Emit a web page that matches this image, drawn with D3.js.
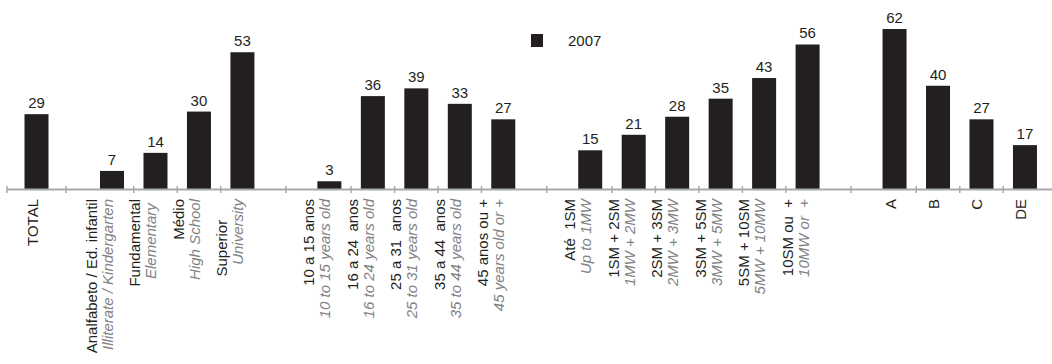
<!DOCTYPE html>
<html>
<head>
<meta charset="utf-8">
<script src="https://cdn.jsdelivr.net/npm/d3@7"></script>
<style>
  html, body { margin: 0; padding: 0; background: #fff; }
  svg { display: block; font-family: "Liberation Sans", Arial, sans-serif; }
</style>
</head>
<body>
<svg id="chart" width="1052" height="364"></svg>
<script>
// ---------- data ----------
const seriesName = "2007";

const totalLabels = [["TOTAL"]];
const totalValues = [29];

const eduLabels = [
  ["Analfabeto / Ed. infantil", "Illiterate / Kindergarten"],
  ["Fundamental", "Elementary\u00A0"],
  ["Médio", "High School"],
  ["Superior\u00A0\u00A0\u00A0\u00A0\u00A0", "University"]
];
const eduValues = [7, 14, 30, 53];

const ageLabels = [
  ["10 a 15 anos", "10 to 15 years old"],
  ["16 a 24\u00A0 anos", "16 to 24 years old"],
  ["25 a 31\u00A0 anos", "25 to 31 years old"],
  ["35 a 44\u00A0 anos", "35 to 44 years old"],
  ["45 anos ou +", "45 years old or +"]
];
const ageValues = [3, 36, 39, 33, 27];

const incomeLabels = [
  ["Até\u00A0 1SM", "Up to 1MW"],
  ["1SM + 2SM", "1MW + 2MW"],
  ["2SM + 3SM", "2MW + 3MW"],
  ["3SM + 5SM", "3MW + 5MW"],
  ["5SM + 10SM", "5MW + 10MW"],
  ["10SM ou\u00A0 +", "10MW or\u00A0 +"]
];
const incomeValues = [15, 21, 28, 35, 43, 56];

const classLabels = [["A"], ["B"], ["C"], ["DE"]];
const classValues = [62, 40, 27, 17];

// ---------- build rows ----------
const groups = [
  {labels: eduLabels, values: eduValues},
  {labels: ageLabels, values: ageValues},
  {labels: incomeLabels, values: incomeValues},
  {labels: classLabels, values: classValues}
];

const mainKeys = [];
const rows = [];
groups.forEach((g, gi) => {
  mainKeys.push("gap" + gi);
  g.labels.forEach((lab, i) => {
    const key = "g" + gi + "_" + i;
    mainKeys.push(key);
    rows.push({key, group: gi, idx: i, lines: lab, value: g.values[i], scale: "main"});
  });
});
const totalRows = totalLabels.map((lab, i) => ({key: "total" + i, group: -1, idx: i, lines: lab, value: totalValues[i], scale: "total"}));
const allRows = totalRows.concat(rows);

// ---------- scales ----------
const baseY = 189;
const svg = d3.select("#chart");
const ink = "#231f20";
const grey = "#808285";
const axisGrey = "#a7a9ac";
const fs = 15;

const xMain = d3.scaleBand().domain(mainKeys).range([46.8, 1046.7]).paddingInner(0.448).paddingOuter(0.224);
const xTotal = d3.scaleBand().domain(totalRows.map(d => d.key)).range([7, 66]).padding(0);
const bw = xMain.bandwidth();
const center = d => d.scale === "total" ? xTotal(d.key) + xTotal.bandwidth() / 2 : xMain(d.key) + bw / 2;
const mainCenter = k => xMain(k) + bw / 2;

const y = d3.scaleLinear().domain([0, 62]).range([baseY, 29]);

// ---------- bars ----------
svg.append("g").selectAll("rect").data(allRows).join("rect")
  .attr("x", d => center(d) - bw / 2)
  .attr("y", d => y(d.value))
  .attr("width", bw)
  .attr("height", d => baseY - y(d.value))
  .attr("fill", ink);

// ---------- axis ----------
svg.append("line")
  .attr("x1", xTotal.range()[0]).attr("x2", 1052)
  .attr("y1", baseY + 0.5).attr("y2", baseY + 0.5)
  .attr("stroke", axisGrey).attr("stroke-width", 2);

const tickXs = [xTotal.range()[0], xTotal.range()[1]];
groups.forEach((g, gi) => {
  if (gi > 0) tickXs.push(mainCenter("gap" + gi));
  for (let i = 0; i < g.values.length - 1; i++) {
    tickXs.push((mainCenter("g" + gi + "_" + i) + mainCenter("g" + gi + "_" + (i + 1))) / 2);
  }
});
svg.append("g").selectAll("line").data(tickXs).join("line")
  .attr("x1", d => d).attr("x2", d => d)
  .attr("y1", baseY - 3).attr("y2", baseY + 4)
  .attr("stroke", axisGrey).attr("stroke-width", 1.5);

// ---------- value labels ----------
svg.append("g").selectAll("text").data(allRows).join("text")
  .attr("x", d => center(d))
  .attr("y", d => y(d.value) - 6)
  .attr("text-anchor", "middle")
  .attr("font-size", fs)
  .attr("fill", ink)
  .text(d => d.value);

// ---------- category labels ----------
const labG = svg.append("g");
allRows.forEach(d => {
  const n = d.lines.length;
  d.lines.forEach((line, i) => {
    const lx = center(d) + (i - (n - 1)) * 16 + 1;
    const ly = baseY + 10;
    const secondary = n > 1 && i === n - 1;
    labG.append("text")
      .attr("transform", `translate(${lx},${ly}) rotate(-90)`)
      .attr("text-anchor", "end")
      .attr("font-size", fs)
      .attr("font-style", secondary ? "italic" : "normal")
      .attr("fill", secondary ? grey : ink)
      .text(line);
  });
});

// ---------- legend ----------
const leg = svg.append("g").attr("transform", "translate(531,34)");
leg.append("rect").attr("width", 12).attr("height", 13).attr("fill", ink);
leg.append("text").attr("x", 37).attr("y", 12).attr("font-size", fs).attr("fill", ink).text(seriesName);
</script>
</body>
</html>
